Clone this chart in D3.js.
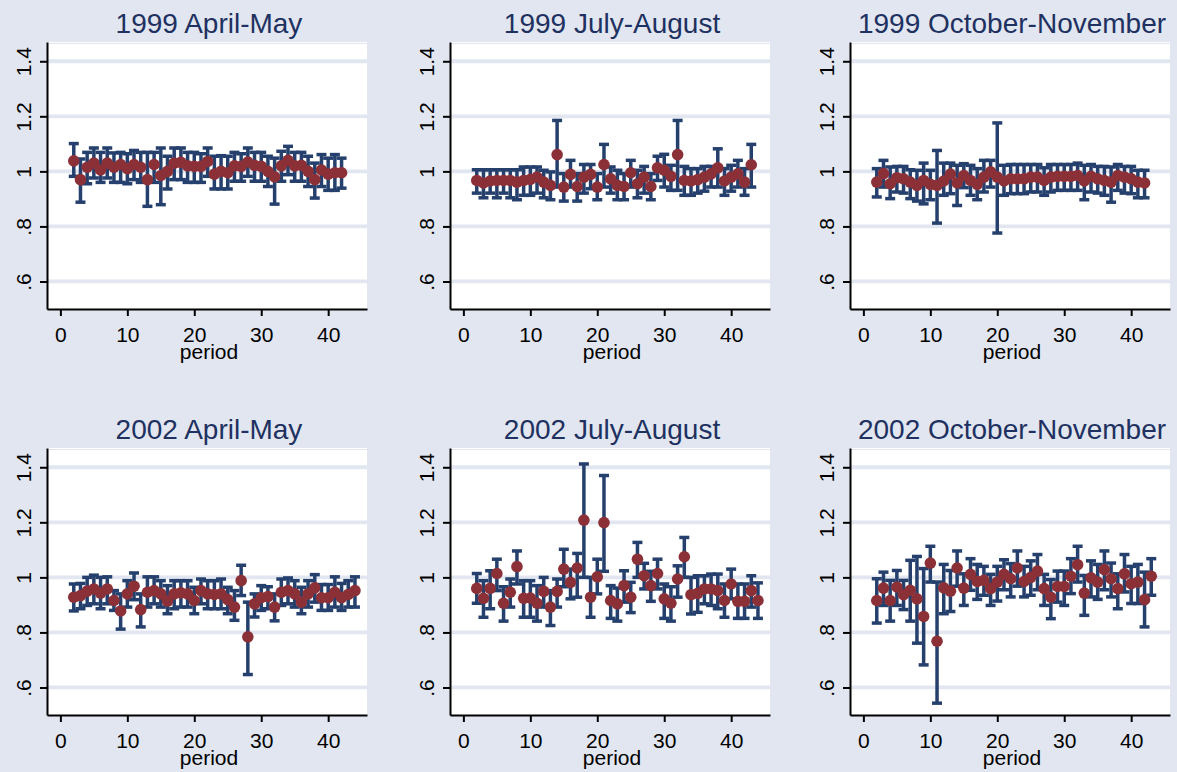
<!DOCTYPE html>
<html>
<head>
<meta charset="utf-8">
<title>Period estimates</title>
<script src="https://cdn.jsdelivr.net/npm/d3@7"></script>
<style>
body { margin: 0; background: #e1e6f0; }
svg { display: block; }
.tick text { font-family: "Liberation Sans", Arial, sans-serif; font-size: 21px; fill: #000; }
.title { font-family: "Liberation Sans", Arial, sans-serif; font-size: 28px; fill: #1e3160; text-anchor: middle; }
.xlabel { font-family: "Liberation Sans", Arial, sans-serif; font-size: 21px; fill: #000; text-anchor: middle; }
</style>
</head>
<body>
<script>
// panel titles, in reading order
var titles = ["1999 April-May", "1999 July-August", "1999 October-November",
              "2002 April-May", "2002 July-August", "2002 October-November"];

var xTicks = [0, 10, 20, 30, 40];
var yTicks = [0.6, 0.8, 1, 1.2, 1.4];
var yTickLabels = [".6", ".8", "1", "1.2", "1.4"];
var firstPeriod = 2;

// estimate, lower and upper bound per period (periods start at 2)
var est99a = [1.038,0.97,1.015,1.03,1.005,1.03,1.015,1.025,1.01,1.025,1.015,0.97,1.025,0.985,1.0,1.03,1.033,1.02,1.018,1.018,1.036,0.99,1.0,0.995,1.02,1.018,1.034,1.022,1.018,1.0,0.98,1.02,1.04,1.02,1.022,1.0,0.97,1.005,0.99,0.995,0.995];
var hi99a  = [1.101,1.045,1.069,1.085,1.069,1.085,1.067,1.069,1.064,1.076,1.069,1.069,1.069,1.085,1.055,1.085,1.085,1.069,1.069,1.064,1.085,1.055,1.057,1.055,1.069,1.064,1.085,1.069,1.069,1.055,1.048,1.073,1.091,1.069,1.069,1.055,1.03,1.061,1.048,1.061,1.048];
var lo99a  = [0.982,0.888,0.955,0.976,0.96,0.976,0.96,0.96,0.955,0.97,0.96,0.873,0.96,0.879,0.936,0.97,0.97,0.96,0.96,0.96,0.982,0.936,0.936,0.936,0.964,0.964,0.982,0.964,0.964,0.945,0.881,0.964,0.988,0.964,0.964,0.945,0.903,0.945,0.931,0.931,0.939];

var est99b = [0.967,0.958,0.965,0.967,0.967,0.967,0.961,0.967,0.971,0.979,0.961,0.949,1.061,0.943,0.989,0.945,0.979,0.989,0.943,1.025,0.973,0.949,0.945,0.995,0.955,0.979,0.945,1.013,1.004,0.982,1.061,0.967,0.965,0.97,0.979,0.991,1.013,0.965,0.979,0.991,0.961,1.024];
var hi99b  = [1.006,1.006,1.006,1.006,1.006,1.006,1.006,1.016,1.016,1.016,1.004,0.998,1.185,0.992,1.04,0.992,1.025,1.025,0.992,1.098,1.016,1.004,0.992,1.04,1.004,1.018,0.992,1.055,1.062,1.022,1.185,1.018,1.01,1.01,1.018,1.018,1.082,1.01,1.022,1.04,1.01,1.098];
var lo99b  = [0.921,0.904,0.921,0.904,0.921,0.904,0.897,0.913,0.913,0.921,0.904,0.897,0.943,0.892,0.943,0.892,0.921,0.937,0.897,0.943,0.921,0.897,0.897,0.943,0.904,0.921,0.897,0.967,0.943,0.931,0.931,0.913,0.913,0.921,0.928,0.943,0.943,0.913,0.928,0.943,0.913,0.943];

var est99c = [0.961,0.992,0.955,0.977,0.973,0.961,0.949,0.967,0.953,0.949,0.965,0.99,0.958,0.985,0.967,0.953,0.979,0.998,0.979,0.965,0.973,0.973,0.973,0.979,0.979,0.967,0.979,0.982,0.982,0.982,0.985,0.965,0.982,0.973,0.967,0.961,0.985,0.979,0.973,0.961,0.958];
var hi99c  = [1.01,1.04,1.016,1.018,1.018,1.006,1.004,1.03,1.004,1.076,1.03,1.03,1.022,1.028,1.022,1.01,1.04,1.04,1.176,1.022,1.025,1.025,1.025,1.025,1.025,1.013,1.025,1.025,1.025,1.025,1.03,1.022,1.025,1.018,1.018,1.016,1.025,1.018,1.018,1.004,1.004];
var lo99c  = [0.907,0.943,0.901,0.925,0.921,0.901,0.892,0.882,0.897,0.812,0.913,0.919,0.876,0.941,0.913,0.897,0.925,0.943,0.776,0.913,0.919,0.919,0.919,0.925,0.925,0.913,0.925,0.931,0.931,0.931,0.931,0.897,0.925,0.921,0.913,0.888,0.931,0.921,0.919,0.904,0.904];

var est02a = [0.928,0.934,0.95,0.958,0.943,0.958,0.916,0.878,0.94,0.968,0.883,0.946,0.952,0.94,0.914,0.94,0.944,0.94,0.916,0.952,0.94,0.938,0.94,0.919,0.892,0.988,0.784,0.904,0.926,0.93,0.892,0.946,0.952,0.94,0.91,0.94,0.962,0.926,0.926,0.946,0.926,0.938,0.952];
var hi02a  = [0.976,0.978,1.0,1.008,1.0,1.002,0.952,0.94,0.988,1.016,0.94,1.002,1.002,0.988,0.97,0.988,0.988,0.988,0.964,0.994,0.988,0.988,0.994,0.964,0.952,1.044,0.91,0.94,0.97,0.966,0.94,0.994,0.998,0.988,0.964,0.988,1.01,0.974,0.974,1.002,0.978,0.988,1.002];
var lo02a  = [0.878,0.886,0.898,0.904,0.886,0.904,0.88,0.812,0.892,0.919,0.82,0.892,0.904,0.892,0.868,0.886,0.892,0.892,0.868,0.904,0.886,0.886,0.886,0.868,0.844,0.934,0.647,0.856,0.88,0.886,0.842,0.898,0.904,0.892,0.868,0.892,0.91,0.88,0.88,0.892,0.88,0.892,0.892];

var est02b = [0.96,0.924,0.96,1.014,0.906,0.946,1.039,0.924,0.925,0.906,0.949,0.892,0.949,1.03,0.982,1.034,1.208,0.928,1.002,1.199,0.916,0.904,0.97,0.928,1.066,1.006,0.97,1.014,0.922,0.906,0.994,1.075,0.937,0.942,0.958,0.958,0.952,0.916,0.976,0.913,0.913,0.952,0.916];
var hi02b  = [1.014,0.988,1.024,1.066,0.966,0.994,1.096,0.988,0.988,0.97,1.0,0.952,0.994,1.102,1.03,1.087,1.412,1.0,1.066,1.37,0.97,0.961,1.024,0.982,1.127,1.051,1.022,1.066,0.976,0.966,1.042,1.145,1.0,1.006,1.006,1.012,1.012,0.976,1.03,0.976,0.976,1.006,0.98];
var lo02b  = [0.906,0.855,0.886,0.952,0.841,0.892,0.976,0.855,0.855,0.841,0.892,0.825,0.892,0.966,0.922,0.928,1.0,0.855,0.94,1.022,0.851,0.841,0.91,0.872,1.0,0.958,0.913,0.958,0.851,0.841,0.928,1.0,0.867,0.873,0.904,0.898,0.886,0.855,0.922,0.851,0.851,0.892,0.851];

var est02c = [0.916,0.961,0.916,0.965,0.937,0.953,0.922,0.858,1.052,0.768,0.962,0.95,1.034,0.961,1.011,0.985,0.989,0.959,0.983,1.011,0.995,1.034,0.985,1.0,1.023,0.959,0.928,0.967,0.967,1.004,1.046,0.943,0.998,0.983,1.028,0.995,0.959,1.013,0.977,0.983,0.919,1.004];
var hi02c  = [0.995,1.019,0.989,1.025,0.989,1.062,1.076,1.032,1.113,0.983,1.047,1.025,1.096,1.013,1.068,1.047,1.04,1.011,1.04,1.064,1.05,1.096,1.04,1.06,1.083,1.011,0.992,1.023,1.023,1.068,1.113,1.007,1.06,1.047,1.096,1.052,1.013,1.083,1.04,1.047,1.019,1.068];
var lo02c  = [0.834,0.898,0.841,0.898,0.883,0.841,0.761,0.682,0.983,0.543,0.868,0.876,0.968,0.898,0.953,0.92,0.935,0.898,0.914,0.955,0.929,0.968,0.929,0.935,0.955,0.898,0.85,0.91,0.898,0.941,0.983,0.862,0.929,0.92,0.955,0.929,0.886,0.947,0.905,0.905,0.82,0.935];

var series = [
  [est99a, lo99a, hi99a], [est99b, lo99b, hi99b], [est99c, lo99c, hi99c],
  [est02a, lo02a, hi02a], [est02b, lo02b, hi02b], [est02c, lo02c, hi02c]
];

var W = 1177, H = 772;
var colLeft = [47, 450, 850], rowTop = [42, 448];
var plotW = 320, plotH = 267;
var bg = "#e1e6f0", navy = "#26406e", maroon = "#8c3038";

var svg = d3.select("body").append("svg")
    .attr("width", W)
    .attr("height", H);

svg.append("rect").attr("width", W).attr("height", H).attr("fill", bg);

function drawPanel(k) {
  var left = colLeft[k % 3], top = rowTop[Math.floor(k / 3)];
  var est = series[k][0], lo = series[k][1], hi = series[k][2];
  var rows = est.map(function(v, i) {
    return { period: firstPeriod + i, est: v, lo: lo[i], hi: hi[i] };
  });

  var x = d3.scaleLinear().domain([-2, 45.8]).range([left, left + plotW]);
  var y = d3.scaleLinear().domain([0.5, 1.47]).range([top + plotH, top]);

  var g = svg.append("g");

  g.append("rect")
      .attr("x", left).attr("y", top)
      .attr("width", plotW).attr("height", plotH)
      .attr("fill", "#fff");

  // faint line along the top of the plot region
  g.append("line")
      .attr("x1", left).attr("x2", left + plotW)
      .attr("y1", top + 1.5).attr("y2", top + 1.5)
      .attr("stroke", bg).attr("stroke-width", 1);

  g.selectAll("line.grid")
    .data(yTicks)
    .enter().append("line")
      .attr("class", "grid")
      .attr("x1", left).attr("x2", left + plotW)
      .attr("y1", function(d) { return y(d); })
      .attr("y2", function(d) { return y(d); })
      .attr("stroke", bg)
      .attr("stroke-width", 3.8);

  // error bars
  var bars = g.selectAll("g.bar")
    .data(rows)
    .enter().append("g")
      .attr("class", "bar")
      .attr("stroke", navy)
      .attr("stroke-width", 3.5);

  bars.append("line")
      .attr("x1", function(d) { return x(d.period); })
      .attr("x2", function(d) { return x(d.period); })
      .attr("y1", function(d) { return y(d.lo); })
      .attr("y2", function(d) { return y(d.hi); });
  bars.append("line")
      .attr("x1", function(d) { return x(d.period) - 5; })
      .attr("x2", function(d) { return x(d.period) + 5; })
      .attr("y1", function(d) { return y(d.hi); })
      .attr("y2", function(d) { return y(d.hi); });
  bars.append("line")
      .attr("x1", function(d) { return x(d.period) - 5; })
      .attr("x2", function(d) { return x(d.period) + 5; })
      .attr("y1", function(d) { return y(d.lo); })
      .attr("y2", function(d) { return y(d.lo); });

  g.selectAll("circle")
    .data(rows)
    .enter().append("circle")
      .attr("cx", function(d) { return x(d.period); })
      .attr("cy", function(d) { return y(d.est); })
      .attr("r", 5.8)
      .attr("fill", maroon);

  // axes
  var yAxis = g.append("g")
      .attr("transform", "translate(" + left + ",0)")
      .call(d3.axisLeft(y)
        .tickValues(yTicks)
        .tickFormat(function(d, i) { return yTickLabels[i]; })
        .tickSize(7)
        .tickSizeOuter(0));
  yAxis.selectAll("text")
      .attr("x", null).attr("dy", null)
      .attr("transform", "translate(-16,0) rotate(-90)")
      .style("text-anchor", "middle");

  var xAxis = g.append("g")
      .attr("transform", "translate(0," + (top + plotH) + ")")
      .call(d3.axisBottom(x)
        .tickValues(xTicks)
        .tickSize(7)
        .tickSizeOuter(0));
  xAxis.selectAll("text").attr("y", 33).attr("dy", null);

  [yAxis, xAxis].forEach(function(a) {
    a.select(".domain").attr("stroke", "#000").attr("stroke-width", 2);
    a.selectAll(".tick line").attr("stroke", "#000").attr("stroke-width", 2);
  });

  g.append("text")
      .attr("class", "xlabel")
      .attr("x", left + plotW / 2 + 2)
      .attr("y", top + plotH + 50)
      .text("period");

  g.append("text")
      .attr("class", "title")
      .attr("x", left + plotW / 2 + 2)
      .attr("y", top - 9)
      .text(titles[k]);
}

for (var k = 0; k < 6; k++) drawPanel(k);
</script>
</body>
</html>
